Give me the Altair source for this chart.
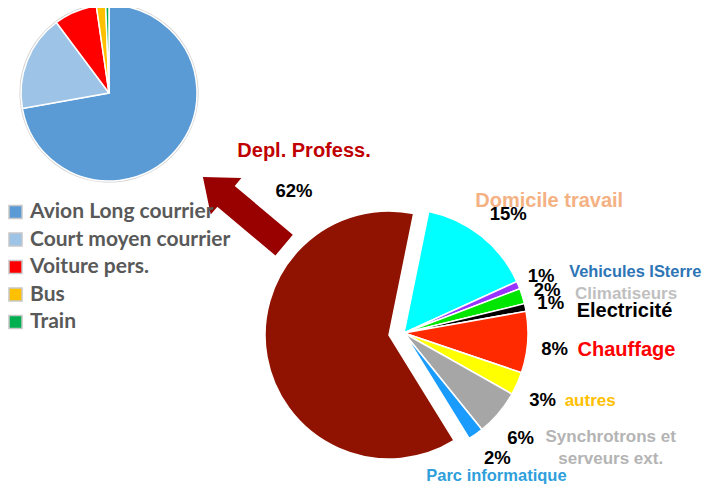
import math
import altair as alt
import pandas as pd

# ---------------- data ----------------
BIG_CATS = ["Domicile travail", "Vehicules ISterre", "Climatiseurs", "Electricité",
            "Chauffage", "autres", "Synchrotrons et\nserveurs ext.", "Parc informatique",
            "Depl. Profess."]
BIG_VALUES = [15, 1, 2, 1, 8, 3, 6, 2, 62]
BIG_COLORS = ["#00ffff", "#9933ff", "#00e600", "#000000", "#ff2a00",
              "#ffff00", "#a6a6a6", "#1a9cff", "#8f1300"]

SMALL_CATS = ["Avion Long courrier", "Court moyen courrier", "Voiture pers.", "Bus", "Train"]
SMALL_VALUES = [72.2, 17.6, 7.9, 1.7, 0.6]
SMALL_COLORS = ["#5b9bd5", "#9dc3e6", "#ff0000", "#ffc000", "#00b050"]

# ---------------- layout / style ----------------
W, H = 697, 476
BIG_OFFSET = math.radians(11.5)
BIG_CENTER = (396, 325)        # small slices
EXPLODED_CENTER = (381, 327)   # Depl. Profess. slice
BIG_R = 124
SMALL_CENTER = (101, 85)
SMALL_R = 88
PCT_R = 153
FONT = "Liberation Sans"

# per label: pct (dx, dy), name (dx, dy, align, size, color)
LABELS = {
    0: ((9, 1), (50, -12, "center", 20, "#f4b183")),
    1: ((-4, 2), (24, -2, "left", 16.4, "#2e75b6")),
    2: ((-3, 2.5), (25, 6.5, "left", 17, "#bfbfbf")),
    3: ((-3, 1.5), (23, 9.5, "left", 20, "#000000")),
    4: ((-2, 4.5), (21, 5.5, "left", 20, "#ff0000")),
    5: ((-1, 4.5), (21, 6, "left", 17, "#ffc000")),
    6: ((0, 6), (90, 5, "center", 17, "#b4b4b4")),
    7: ((5, 0), (4, 18.5, "center", 16.5, "#2f9fdc")),
    8: ((-95, -144), (-85, -184, "center", 20, "#c00000")),
}


def angles(values, offset):
    tot = sum(values)
    a0, a1, acc = [], [], 0.0
    for v in values:
        a0.append(offset + acc / tot * 2 * math.pi)
        acc += v
        a1.append(offset + acc / tot * 2 * math.pi)
    return a0, a1


b0, b1 = angles(BIG_VALUES, BIG_OFFSET)
big = pd.DataFrame({
    "cat": BIG_CATS, "value": BIG_VALUES, "color": BIG_COLORS,
    "a0": b0, "a1": b1,
})
big["mid"] = (big["a0"] + big["a1"]) / 2
big["pct"] = big["value"].astype(int).astype(str) + "%"

s0, s1 = angles(SMALL_VALUES, 0.0)
small = pd.DataFrame({"cat": SMALL_CATS, "value": SMALL_VALUES, "a0": s0, "a1": s1})

th = alt.Theta("a0:Q", scale=None)
th2 = alt.Theta2("a1:Q")

# ---------------- small pie ----------------
small_ring = alt.Chart(small).mark_arc(radius=SMALL_R + 1.6, color="#d2d2d2").encode(
    x=alt.value(SMALL_CENTER[0]), y=alt.value(SMALL_CENTER[1]), theta=th, theta2=th2)

small_pie = alt.Chart(small).mark_arc(radius=SMALL_R, stroke="white", strokeWidth=1.5).encode(
    x=alt.value(SMALL_CENTER[0]), y=alt.value(SMALL_CENTER[1]),
    theta=th, theta2=th2,
    color=alt.Color("cat:N", scale=alt.Scale(domain=SMALL_CATS, range=SMALL_COLORS),
                    legend=alt.Legend(orient="none", legendX=-3, legendY=193.5, title=None,
                                      symbolType="square", symbolSize=170,
                                      symbolStrokeColor="#c8c8c8", symbolStrokeWidth=1.5,
                                      labelFont="Lato", labelFontSize=21, labelFontWeight="bold",
                                      labelColor="#595959", labelOffset=4, rowPadding=5.5,
                                      padding=0, labelLimit=400)),
)

# ---------------- big pie ----------------
big_rest = alt.Chart(big.iloc[:-1]).mark_arc(radius=BIG_R, stroke="white", strokeWidth=1.5).encode(
    x=alt.value(BIG_CENTER[0]), y=alt.value(BIG_CENTER[1]),
    theta=th, theta2=th2, color=alt.Color("color:N", scale=None, legend=None))

big_depl = alt.Chart(big.iloc[-1:]).mark_arc(radius=BIG_R, stroke="white", strokeWidth=1.5).encode(
    x=alt.value(EXPLODED_CENTER[0]), y=alt.value(EXPLODED_CENTER[1]),
    theta=th, theta2=th2, color=alt.Color("color:N", scale=None, legend=None))

# ---------------- arrow ----------------
ARROW = "M1,0L0.43,-0.45L0.43,-0.255L-1,-0.255L-1,0.255L0.43,0.255L0.43,0.45Z"
arrow = alt.Chart(alt.Data(values=[{"a": 1}])).mark_point(
    shape=ARROW, filled=True, color="#990000", opacity=1, size=106 ** 2, angle=220, strokeWidth=0
).encode(x=alt.value(235.5), y=alt.value(203))

# ---------------- labels ----------------
text_layers = []
for i in range(len(BIG_CATS)):
    row = big.iloc[[i]]
    (pdx, pdy), (ndx, ndy, nalign, nsize, ncolor) = LABELS[i]
    is_depl = i == len(BIG_CATS) - 1
    cx, cy = EXPLODED_CENTER if is_depl else BIG_CENTER
    rad = 0 if is_depl else PCT_R
    text_layers.append(
        alt.Chart(row).mark_text(radius=rad, dx=pdx, dy=pdy, align="center", baseline="middle",
                                 font=FONT, fontSize=18.5, fontWeight="bold", color="#000000")
        .encode(x=alt.value(cx), y=alt.value(cy), theta=alt.Theta("mid:Q", scale=None),
                text="pct:N"))
    text_layers.append(
        alt.Chart(row).mark_text(radius=rad, dx=ndx, dy=ndy, align=nalign, baseline="middle",
                                 font=FONT, fontSize=nsize, fontWeight="bold", color=ncolor,
                                 lineBreak="\n", lineHeight=22.5)
        .encode(x=alt.value(cx), y=alt.value(cy), theta=alt.Theta("mid:Q", scale=None),
                text="cat:N"))

chart = alt.layer(small_ring, small_pie, big_rest, big_depl, arrow, *text_layers).resolve_scale(
    color="independent"
).properties(width=W, height=H, autosize="none", padding=0).configure_view(stroke=None)

chart.save("out.html", embed_options={"renderer": "svg", "actions": False})
